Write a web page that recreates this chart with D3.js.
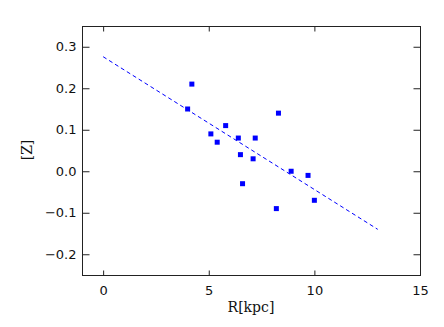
<!DOCTYPE html>
<html>
<head>
<meta charset="utf-8">
<script src="https://cdn.jsdelivr.net/npm/d3@7"></script>
<style>
  body { margin: 0; background: #fff; }
  svg { display: block; }
</style>
</head>
<body>
<svg id="chart" width="444" height="327"></svg>
<script>
// data
var radius = [4.0, 4.2, 5.1, 5.4, 5.8, 6.4, 6.5, 6.6, 7.1, 7.2, 8.2, 8.3, 8.9, 9.7, 10.0];
var metal  = [0.15, 0.21, 0.09, 0.07, 0.11, 0.08, 0.04, -0.03, 0.03, 0.08, -0.09, 0.14, 0.0, -0.01, -0.07];
var fitX = [0, 13];
var fitY = [0.276, -0.140];
var xTicks = [0, 5, 10, 15];
var yTicks = [-0.2, -0.1, 0.0, 0.1, 0.2, 0.3];

var svg = d3.select("#chart");
var box = {left: 82, right: 420, top: 26, bottom: 275};

var xScale = d3.scaleLinear().domain([-1, 15]).range([box.left, box.right]);
var yScale = d3.scaleLinear().domain([-0.25, 0.35]).range([box.bottom, box.top]);

var axisColor = "#222";
var tickFont = "'DejaVu Sans', sans-serif";
var titleFont = "'DejaVu Serif', serif";

// frame
svg.append("rect")
    .attr("x", box.left + 0.5)
    .attr("y", box.top + 0.5)
    .attr("width", box.right - box.left)
    .attr("height", box.bottom - box.top)
    .attr("fill", "none")
    .attr("stroke", axisColor)
    .attr("stroke-width", 1);

function fmtY(d) {
    return d3.format(".1f")(d).replace("-", "\u2212");
}

// bottom axis (ticks inward)
var xAxis = svg.append("g")
    .attr("transform", "translate(0," + (box.bottom + 0.5) + ")")
    .call(d3.axisBottom(xScale).tickValues(xTicks).tickSize(-5).tickPadding(10).tickFormat(d3.format("d")));
// top axis, no labels
var xAxisTop = svg.append("g")
    .attr("transform", "translate(0," + (box.top + 0.5) + ")")
    .call(d3.axisTop(xScale).tickValues(xTicks).tickSize(-5).tickFormat(""));
// left axis
var yAxis = svg.append("g")
    .attr("transform", "translate(" + (box.left + 0.5) + ",0)")
    .call(d3.axisLeft(yScale).tickValues(yTicks).tickSize(-7).tickPadding(6).tickFormat(fmtY));
// right axis, no labels
var yAxisRight = svg.append("g")
    .attr("transform", "translate(" + (box.right + 0.5) + ",0)")
    .call(d3.axisRight(yScale).tickValues(yTicks).tickSize(-7).tickFormat(""));

svg.selectAll(".domain").remove();
svg.selectAll(".tick line").attr("stroke", axisColor);
svg.selectAll(".tick text")
    .attr("fill", "#111")
    .style("font-family", tickFont)
    .style("font-size", "13px");

// axis titles
svg.append("text")
    .attr("x", (box.left + box.right) / 2)
    .attr("y", 312)
    .attr("text-anchor", "middle")
    .style("font-family", titleFont)
    .style("font-size", "14px")
    .attr("fill", "#111")
    .text("R[kpc]");

svg.append("text")
    .attr("transform", "translate(32," + 150 + ") rotate(-90)")
    .attr("text-anchor", "middle")
    .style("font-family", titleFont)
    .style("font-size", "14px")
    .attr("fill", "#111")
    .text("[Z]");

// dashed fit line
var line = d3.line()
    .x(function(d) { return xScale(d[0]); })
    .y(function(d) { return yScale(d[1]); });
svg.append("path")
    .datum(fitX.map(function(x, i) { return [x, fitY[i]]; }))
    .attr("d", line)
    .attr("fill", "none")
    .attr("stroke", "#0000ff")
    .attr("stroke-width", 1)
    .attr("stroke-dasharray", "4,3");

// data points
var pts = radius.map(function(r, i) { return {r: r, z: metal[i]}; });
svg.append("g").selectAll("rect").data(pts).enter()
    .append("rect")
    .attr("x", function(d) { return xScale(d.r) - 2.5; })
    .attr("y", function(d) { return yScale(d.z) - 2.5; })
    .attr("width", 5)
    .attr("height", 5)
    .attr("fill", "#0000ff");
</script>
</body>
</html>
